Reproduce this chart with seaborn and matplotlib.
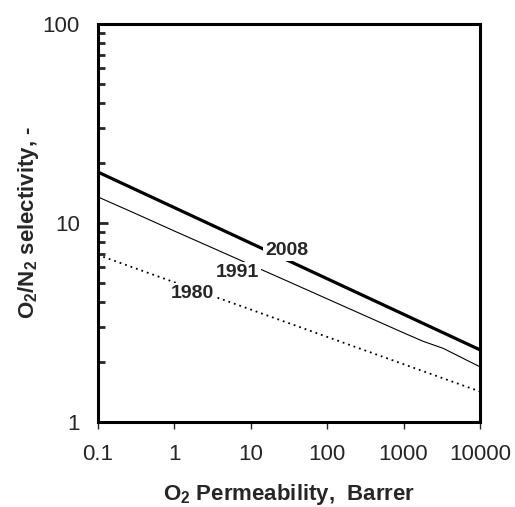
import pandas as pd
import seaborn as sns
import matplotlib
matplotlib.use('Agg')
import matplotlib.pyplot as plt
from matplotlib.ticker import LogLocator, NullFormatter, FixedLocator

# upper bound lines, O2 permeability (Barrer) vs O2/N2 selectivity
perm_2008 = [0.1, 10000]
sel_2008 = [18.0, 2.30]

perm_1991 = [0.1, 0.3, 1, 3, 10, 30, 100, 300, 1000, 1800, 3300, 10000]
sel_1991 = [13.5, 11.2, 9.1, 7.55, 6.15, 5.1, 4.15, 3.44, 2.80, 2.54, 2.34, 1.89]

perm_1980 = [0.1, 10000]
sel_1980 = [6.9, 1.42]

year_labels = ['2008', '1991', '1980']
label_x = [29.8, 6.6, 1.7]
label_y = [7.3, 5.6, 4.4]

x_ticks = [0.1, 1, 10, 100, 1000, 10000]
x_tick_labels = ['0.1', '1', '10', '100', '1000', '10000']
y_ticks = [1, 10, 100]
y_tick_labels = ['1', '10', '100']

sns.set_style('ticks')
plt.rcParams['font.family'] = ['Liberation Sans', 'DejaVu Sans']
plt.rcParams['mathtext.fontset'] = 'custom'
plt.rcParams['mathtext.bf'] = 'Liberation Sans:bold'
plt.rcParams['mathtext.rm'] = 'Liberation Sans'
plt.rcParams['mathtext.default'] = 'bf'

df_2008 = pd.DataFrame({'perm': perm_2008, 'sel': sel_2008})
df_1991 = pd.DataFrame({'perm': perm_1991, 'sel': sel_1991})
df_1980 = pd.DataFrame({'perm': perm_1980, 'sel': sel_1980})

fig = plt.figure(figsize=(5.15, 5.07), dpi=100)
ax = fig.add_axes([0.190, 0.168, 0.742, 0.785])

sns.lineplot(data=df_2008, x='perm', y='sel', ax=ax, color='black',
             linewidth=2.3, zorder=3)
sns.lineplot(data=df_1991, x='perm', y='sel', ax=ax, color='black',
             linewidth=0.8, zorder=3)
sns.lineplot(data=df_1980, x='perm', y='sel', ax=ax, color='black',
             linewidth=1.3, linestyle=(0, (1, 2.2)), zorder=3)

ax.set_xscale('log')
ax.set_yscale('log')
ax.set_xlim(0.1, 10000)
ax.set_ylim(1, 100)

for txt, lx, ly in zip(year_labels, label_x, label_y):
    ax.text(lx, ly, txt, ha='center', va='center', fontsize=14,
            fontweight='bold', zorder=5,
            bbox=dict(facecolor='white', edgecolor='none', pad=1.5))

ax.xaxis.set_major_locator(FixedLocator(x_ticks))
ax.set_xticklabels(x_tick_labels)
ax.xaxis.set_minor_locator(FixedLocator([]))
ax.yaxis.set_major_locator(FixedLocator(y_ticks))
ax.set_yticklabels(y_tick_labels)
ax.yaxis.set_minor_locator(LogLocator(base=10, subs=range(2, 10)))
ax.yaxis.set_minor_formatter(NullFormatter())

ax.tick_params(axis='x', which='major', direction='out', length=5,
               width=1, labelsize=16, pad=11)
ax.tick_params(axis='y', which='major', direction='in', length=7,
               width=2, labelsize=16, pad=13)
ax.tick_params(axis='y', which='minor', direction='in', length=5,
               width=2)

for side in ['left', 'right', 'top', 'bottom']:
    ax.spines[side].set_visible(True)
    ax.spines[side].set_linewidth(2.2)
    ax.spines[side].set_color('black')

ax.set_xlabel(r'O$_2$ Permeability,  Barrer', fontsize=16,
              fontweight='bold', labelpad=12)
ax.set_ylabel(r'O$_2$/N$_2$ selectivity, -', fontsize=16,
              fontweight='bold', labelpad=1)

fig.savefig('out.png', dpi=100)
